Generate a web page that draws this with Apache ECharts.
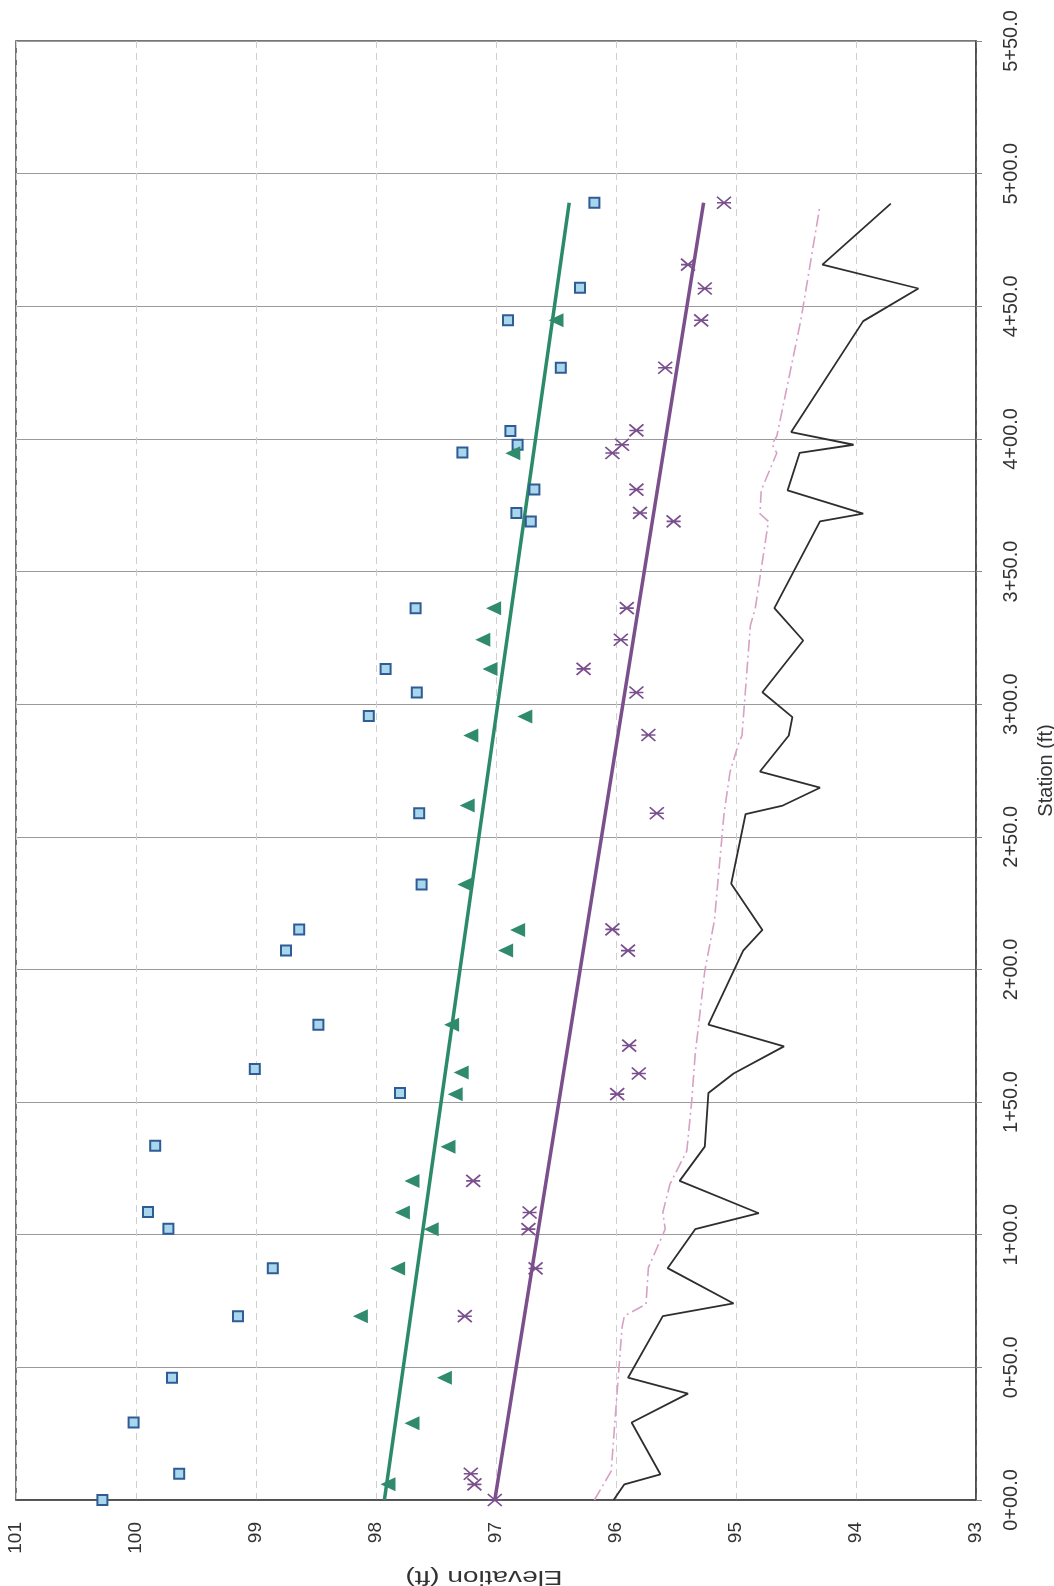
<!DOCTYPE html>
<html>
<head>
<meta charset="utf-8">
<script src="https://cdn.jsdelivr.net/npm/echarts@6/dist/echarts.min.js"></script>
<style>
  html, body { margin: 0; padding: 0; background: #ffffff; }
  #chart { width: 1054px; height: 1586px; }
</style>
</head>
<body>
<div id="chart"></div>
<script>
// ---- Data (station in ft, elevation in ft) ----
const stationTicks = [0, 50, 100, 150, 200, 250, 300, 350, 400, 450, 500, 550];
const stationTickLabels = ['0+00.0', '0+50.0', '1+00.0', '1+50.0', '2+00.0', '2+50.0',
                           '3+00.0', '3+50.0', '4+00.0', '4+50.0', '5+00.0', '5+50.0'];
const elevationTicks = [93, 94, 95, 96, 97, 98, 99, 100, 101];
const xTitle = 'Elevation (ft)';
const yTitle = 'Station (ft)';

// Light blue squares
const squareStation = [0, 9.9, 29.2, 46.1, 69.3, 87.4, 102.3, 108.6, 133.5, 153.4, 162.5, 179.2,
  207.1, 215.1, 232.0, 258.9, 295.5, 304.4, 313.3, 336.2, 368.9, 372.1, 380.9, 394.9, 397.8,
  403.0, 426.8, 444.7, 457.0, 489.0];
const squareElev = [100.28, 99.64, 100.02, 99.70, 99.15, 98.86, 99.73, 99.90, 99.84, 97.80, 99.01, 98.48,
  98.75, 98.64, 97.62, 97.64, 98.06, 97.66, 97.92, 97.67, 96.71, 96.83, 96.68, 97.28, 96.82,
  96.88, 96.46, 96.90, 96.30, 96.18];

// Green triangles
const triStation = [5.9, 28.9, 46.1, 69.3, 87.3, 102.1, 108.4, 120.3, 133.2, 153.0, 161.2, 179.2,
  207.1, 214.9, 232.0, 261.8, 288.2, 295.4, 313.3, 324.3, 336.2, 394.6, 444.7];
const triElev = [97.90, 97.70, 97.43, 98.13, 97.82, 97.54, 97.78, 97.70, 97.40, 97.34, 97.29, 97.37,
  96.92, 96.82, 97.26, 97.24, 97.21, 96.76, 97.05, 97.11, 97.02, 96.86, 96.50];

// Purple asterisks
const starStation = [0, 5.9, 9.9, 69.3, 87.3, 102.1, 108.4, 120.3, 153.0, 160.8, 171.3, 207.1,
  215.1, 258.9, 288.4, 304.4, 313.3, 324.3, 336.2, 368.9, 372.1, 380.9, 394.7, 397.8, 403.2,
  426.8, 444.7, 456.7, 465.7, 489.0];
const starElev = [97.01, 97.18, 97.21, 97.26, 96.67, 96.73, 96.72, 97.19, 95.99, 95.81, 95.89, 95.90,
  96.03, 95.66, 95.73, 95.83, 96.27, 95.96, 95.91, 95.52, 95.80, 95.83, 96.03, 95.95, 95.83,
  95.59, 95.29, 95.26, 95.40, 95.10];

// Trend lines (end points)
const greenTrendStation = [0, 489];
const greenTrendElev = [97.93, 96.39];
const purpleTrendStation = [0, 489];
const purpleTrendElev = [97.01, 95.27];

// Dark zig-zag line
const darkStation = [0, 5.9, 9.7, 29.2, 40.1, 46.1, 69.3, 74.1, 87.4, 102.1, 108.1, 120.3, 133.2,
  153.4, 160.8, 171.0, 179.2, 207.1, 214.9, 232.3, 258.6, 261.8, 268.5, 274.6, 288.2, 295.1,
  304.5, 324.0, 336.2, 368.9, 371.8, 380.6, 394.7, 397.8, 402.6, 444.4, 456.7, 465.7, 488.7];
const darkElev = [96.02, 95.93, 95.63, 95.87, 95.40, 95.90, 95.61, 95.02, 95.57, 95.34, 94.81, 95.47, 95.26,
  95.23, 95.02, 94.60, 95.23, 94.94, 94.78, 95.04, 94.92, 94.61, 94.30, 94.80, 94.56, 94.53,
  94.78, 94.44, 94.68, 94.30, 93.94, 94.57, 94.47, 94.02, 94.54, 93.94, 93.48, 94.28, 93.71];

// Pink dash-dot line
const pinkStation = [0, 10.9, 65.0, 69.4, 73.8, 87.6, 102.1, 108.4, 119.1, 131.6, 149.9, 168.0,
  199.5, 218.4, 258.6, 274.4, 285.0, 288.2, 329.7, 336.0, 368.9, 371.8, 380.6, 394.7, 398.0,
  401.0, 444.7, 488.0];
const pinkElev = [96.18, 96.04, 95.95, 95.93, 95.75, 95.73, 95.59, 95.61, 95.55, 95.41, 95.37, 95.34,
  95.26, 95.18, 95.10, 95.05, 94.98, 94.95, 94.88, 94.84, 94.73, 94.80, 94.79, 94.66, 94.70,
  94.66, 94.46, 94.30];

function pairs(st, el) { return st.map((s, i) => [el[i], s]); }

const FONT = 'Liberation Sans, Arial, sans-serif';
const chart = echarts.init(document.getElementById('chart'), null, { renderer: 'canvas' });

chart.setOption({
  backgroundColor: '#ffffff',
  animation: false,
  grid: {
    left: 16, right: 78, top: 41, bottom: 86,
    containLabel: false, outerBoundsMode: 'none',
    show: true, borderColor: '#4a4a4a', borderWidth: 1.5, backgroundColor: 'transparent'
  },
  graphic: [{
    type: 'text', x: 484, y: 1577, rotation: Math.PI, scaleX: 1.4, scaleY: 1,
    style: { text: xTitle, fontFamily: FONT, fontSize: 20, fill: '#333',
             align: 'center', verticalAlign: 'middle' }
  }],
  xAxis: {
    type: 'value', min: 93, max: 101, interval: 1, inverse: true, position: 'bottom',
    axisLine: { show: true, lineStyle: { color: '#444', width: 1.5 } },
    axisTick: { show: false },
    axisLabel: {
      rotate: 90, margin: 22, fontFamily: FONT, fontSize: 19, color: '#333',
      formatter: v => (elevationTicks.indexOf(v) >= 0 ? String(v) : '')
    },
    splitLine: { show: true, lineStyle: { color: '#cfcfcf', width: 1, type: [7, 5] } }
  },
  yAxis: {
    type: 'value', min: 0, max: 550, interval: 50, position: 'right',
    name: yTitle, nameLocation: 'middle', nameGap: 60, nameRotate: 90,
    nameTextStyle: { fontFamily: FONT, fontSize: 20, color: '#333' },
    axisLine: { show: true, lineStyle: { color: '#444', width: 1.5 } },
    axisTick: { show: true, inside: false, length: 6, lineStyle: { color: '#888' } },
    axisLabel: {
      rotate: 90, margin: 25, fontFamily: FONT, fontSize: 20, color: '#333',
      align: 'center', verticalAlign: 'top',
      formatter: v => { const i = stationTicks.indexOf(v); return i >= 0 ? stationTickLabels[i] : ''; }
    },
    splitLine: { show: true, lineStyle: { color: '#9a9a9a', width: 1 } }
  },
  series: [
    {
      name: 'Pink', type: 'line', data: pairs(pinkStation, pinkElev),
      showSymbol: false, symbol: 'none', z: 2,
      lineStyle: { color: '#d7a0c4', width: 1.6, type: [12, 4, 2, 4] }
    },
    {
      name: 'Dark', type: 'line', data: pairs(darkStation, darkElev),
      showSymbol: false, symbol: 'none', z: 2,
      lineStyle: { color: '#2e2e2e', width: 1.8 }
    },
    {
      name: 'Green trend', type: 'line', data: pairs(greenTrendStation, greenTrendElev),
      showSymbol: false, symbol: 'none', z: 3,
      lineStyle: { color: '#2b8a68', width: 3.5 }
    },
    {
      name: 'Purple trend', type: 'line', data: pairs(purpleTrendStation, purpleTrendElev),
      showSymbol: false, symbol: 'none', z: 3,
      lineStyle: { color: '#7b4f8c', width: 3.5 }
    },
    {
      name: 'Squares', type: 'scatter', data: pairs(squareStation, squareElev),
      symbol: 'rect', symbolSize: 10, z: 4,
      itemStyle: { color: '#a8d6ec', borderColor: '#2f5c94', borderWidth: 2, opacity: 1 }
    },
    {
      name: 'Triangles', type: 'scatter', data: pairs(triStation, triElev),
      symbol: 'triangle', symbolSize: [14, 15], symbolRotate: 90, z: 4,
      itemStyle: { color: '#2f8a6e', opacity: 1 }
    },
    {
      name: 'Asterisks', type: 'scatter', data: pairs(starStation, starElev),
      symbol: 'path://M0,0L12,10M12,0L0,10M0,5L12,5', symbolSize: [14, 12], z: 4,
      itemStyle: { color: 'rgba(0,0,0,0)', borderColor: '#7a4f8e', borderWidth: 1.7, opacity: 1 }
    }
  ]
});
</script>
</body>
</html>
